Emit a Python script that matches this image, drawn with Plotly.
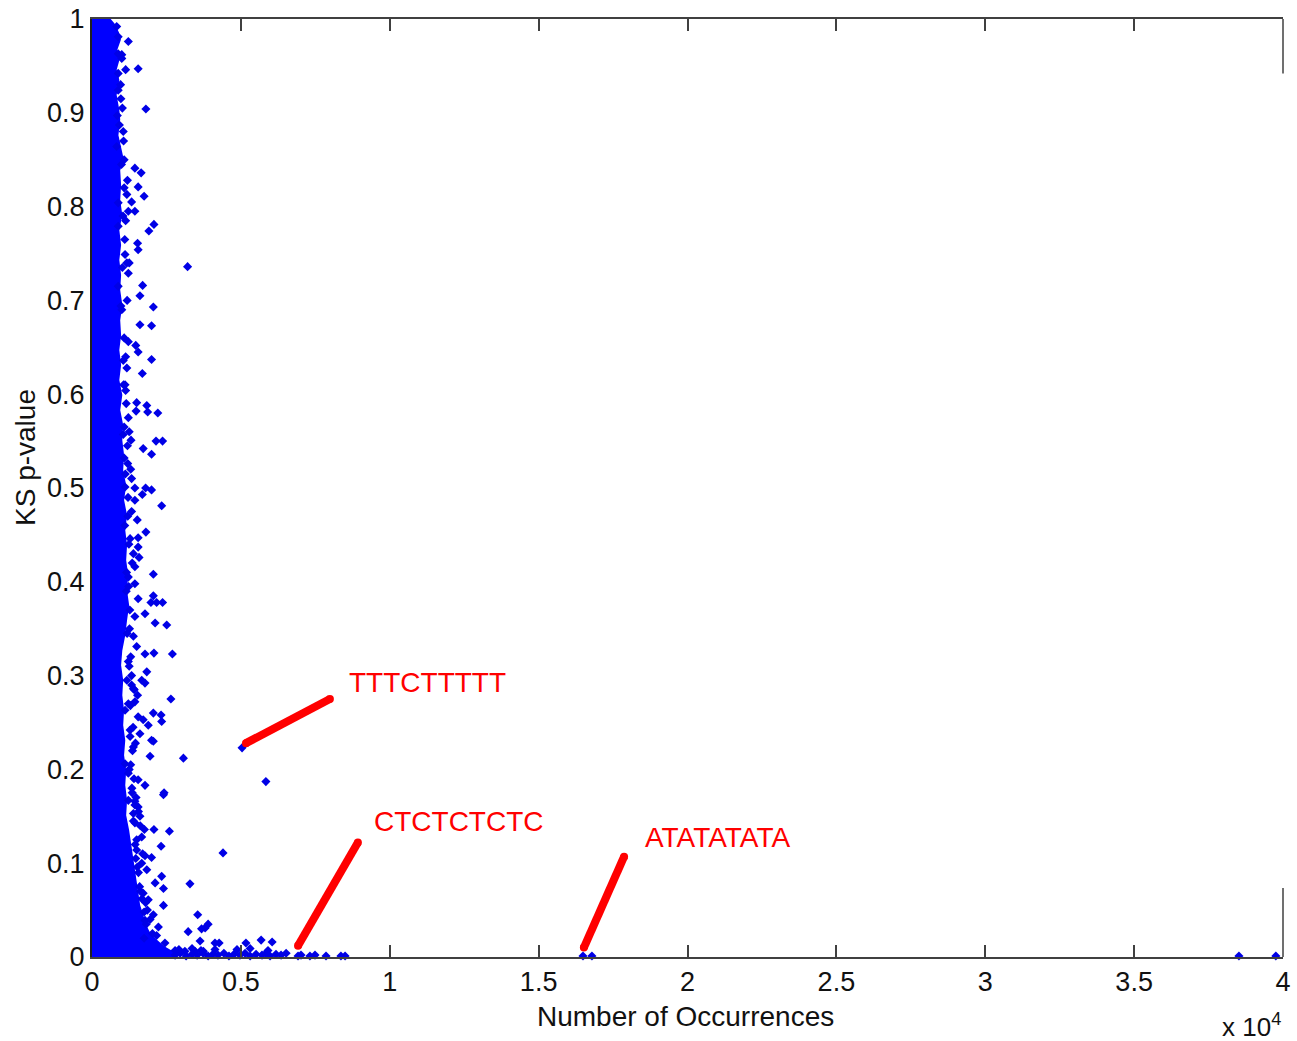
import plotly.graph_objects as go

# ---- dense core of the cloud: right edge (occurrences) vs KS p-value ----
CORE_P = [1.000,0.994,0.985,0.978,0.967,0.956,0.946,0.935,0.919,0.903,0.893,0.876,0.860,0.850,0.839,0.823,
          0.807,0.791,0.775,0.759,0.743,0.727,0.711,0.695,0.679,0.663,0.647,0.631,0.615,0.599,0.583,0.567,
          0.551,0.535,0.519,0.503,0.487,0.471,0.455,0.439,0.423,0.407,0.391,0.375,0.359,0.343,0.327,0.311,
          0.295,0.279,0.263,0.247,0.231,0.215,0.199,0.183,0.167,0.151,0.135,0.119,0.103,0.087,0.071,0.055,
          0.045,0.034,0.023,0.016,0.010,0.004,0.000]
CORE_X = [540,700,840,900,780,850,760,850,760,850,880,820,910,1000,880,910,
          880,950,850,910,850,910,880,950,880,910,850,910,850,950,880,980,
          950,1010,980,1080,1010,1110,1050,1110,1080,1150,1110,1180,1110,1050,950,910,
          980,950,1010,980,1050,1010,1080,1050,1110,1080,1180,1250,1320,1380,1450,1550,
          1650,1750,1920,2150,2380,2700,2790]

# ---- individual scattered motifs (occurrences, KS p-value) ----
PTS_X = [830,880,1220,880,1130,1550,880,880,970,1810,850,920,830,1080,1440,1650,1190,1550,1080,1170,
         1750,1330,880,1220,1440,880,2080,1910,1530,1550,1110,1170,1250,1220,3210,1700,1610,880,970,2060,
         1610,2000,1220,1470,1550,1050,1170,2000,1690,1130,1500,1840,1480,1870,2210,1220,1080,1050,1310,2150,
         2370,1720,2000,1080,1200,1330,1110,1440,1800,2000,1690,1440,2340,1330,1520,1810,1280,1550,1550,1390,
         1580,1440,2060,1220,1440,1550,2060,1980,2170,2370,1780,1440,2120,2510,1390,1500,1780,2080,2700,1220,
         1840,1170,1670,1780,1390,1530,1440,2650,1110,1550,2060,2320,2340,1720,1890,1280,1610,2000,2060,1390,
         1950,3070,1110,1220,1550,1780,2420,2400,1220,1440,1550,1390,1610,1440,1760,2080,2600,1670,2320,1500,
         1780,2000,1670,1840,2340,2120,2400,3290,1720,1890,2400,2060,3550,1780,2230,3230,3680,3630,2170,2450,
         2790,3120,3460,3740,3800,3900,4130,4270,5170,5680,6050,4400,5040,5840,
         1000,1050,1130,1180,1110,1250,1300,1200,1350,1150,1260,1330,1420,1290,1380,1460,1250,1340,1480,1560,
         1620,1450,1520,1700,1630,1800,1860,1950,2030,1750,
         1000,960,1020,1060,990,1040,1100,1020,1000,1080,1130,1060,1150,1190,1120,1210,1100,1240,1160,1230,
         1270,1180,1300,1250,1330,1220,1280,1360,1300,1410,1350,1440,1390,1500,1470,1560,1600,1680,1750,1820]
PTS_P = [0.992,0.981,0.976,0.963,0.946,0.947,0.942,0.924,0.915,0.904,0.897,0.887,0.864,0.850,0.841,0.836,0.828,0.821,0.820,0.813,
         0.811,0.805,0.804,0.795,0.795,0.779,0.781,0.774,0.761,0.754,0.749,0.740,0.740,0.729,0.736,0.716,0.705,0.715,0.694,0.693,
         0.674,0.673,0.656,0.652,0.645,0.636,0.628,0.637,0.622,0.604,0.591,0.588,0.582,0.581,0.580,0.575,0.565,0.557,0.551,0.550,
         0.550,0.542,0.536,0.532,0.526,0.510,0.501,0.500,0.500,0.498,0.493,0.487,0.481,0.475,0.466,0.453,0.446,0.447,0.437,0.430,
         0.426,0.416,0.408,0.405,0.398,0.382,0.385,0.378,0.378,0.378,0.366,0.363,0.356,0.354,0.342,0.331,0.323,0.324,0.323,0.315,
         0.304,0.295,0.295,0.292,0.286,0.279,0.272,0.275,0.263,0.256,0.260,0.258,0.251,0.253,0.247,0.242,0.238,0.231,0.230,0.224,
         0.214,0.212,0.206,0.196,0.189,0.183,0.175,0.173,0.167,0.166,0.160,0.153,0.150,0.143,0.136,0.136,0.134,0.128,0.118,0.114,
         0.108,0.106,0.100,0.093,0.086,0.079,0.073,0.078,0.068,0.061,0.055,0.045,0.045,0.039,0.032,0.027,0.030,0.017,0.023,0.015,
         0.007,0.006,0.006,0.006,0.031,0.035,0.015,0.015,0.015,0.018,0.016,0.111,0.223,0.187,
         0.962,0.880,0.785,0.700,0.610,0.560,0.520,0.470,0.420,0.390,0.350,0.300,0.285,0.268,0.245,0.228,0.200,0.180,0.170,0.155,
         0.140,0.120,0.096,0.110,0.070,0.058,0.050,0.040,0.025,0.020,
         0.958,0.930,0.905,0.870,0.845,0.790,0.765,0.735,0.690,0.660,0.640,0.610,0.590,0.545,0.515,0.490,0.460,0.440,0.410,0.395,
         0.370,0.345,0.320,0.310,0.290,0.270,0.235,0.220,0.205,0.190,0.175,0.162,0.145,0.125,0.105,0.090,0.075,0.062,0.048,0.035]

# motifs lying on (or just above) p = 0
ZERO_X = [2790,2960,3160,3360,3530,3730,3900,4060,4230,4430,4600,4770,4970,5140,5310,5510,5710,5840,5980,6180,
          6350,6520,6920,7020,7320,7490,7860,8360,8500,2920,3360,3660,4130,4870,5310,5910,16490,16790,38520,39760]
ZERO_P = [0.002,0.004,0.001,0.003,0.002,0.004,0.001,0.003,0.002,0.004,0.001,0.003,0.002,0.004,0.001,0.003,0.002,0.004,0.001,0.003,
          0.002,0.004,0.001,0.002,0.001,0.002,0.001,0.001,0.001,0.008,0.009,0.007,0.008,0.008,0.009,0.007,0.001,0.001,0.001,0.001]

# ---- labelled motifs: (label, line start x/p, line end x/p) ----
LABELS = ["TTTCTTTTT", "CTCTCTCTC", "ATATATATA"]
LINE_X0 = [5170, 6920, 16520]
LINE_P0 = [0.228, 0.012, 0.010]
LINE_X1 = [7990, 8930, 17870]
LINE_P1 = [0.275, 0.122, 0.107]
TEXT_X = [8560, 9400, 18500]
TEXT_P = [0.293, 0.144, 0.127]

X_TICKS = [0, 5000, 10000, 15000, 20000, 25000, 30000, 35000, 40000]
X_TICKTEXT = ["0", "0.5", "1", "1.5", "2", "2.5", "3", "3.5", "4"]
Y_TICKS = [0, 0.1, 0.2, 0.3, 0.4, 0.5, 0.6, 0.7, 0.8, 0.9, 1]

BLUE = "#0000ff"
RED = "#ff0000"
FONT = "Liberation Sans, Arial, sans-serif"

fig = go.Figure()

fig.add_trace(go.Scatter(
    x=[0] + CORE_X + [0], y=[1] + CORE_P + [0],
    mode="lines", fill="toself", fillcolor=BLUE,
    line=dict(color=BLUE, width=4), hoverinfo="skip", showlegend=False))

fig.add_trace(go.Scatter(
    x=PTS_X + ZERO_X, y=PTS_P + ZERO_P, mode="markers",
    marker=dict(symbol="diamond", size=7, color="#0000e6", line=dict(width=0)),
    cliponaxis=False, showlegend=False))

for i in range(len(LABELS)):
    fig.add_trace(go.Scatter(
        x=[LINE_X0[i], LINE_X1[i]], y=[LINE_P0[i], LINE_P1[i]],
        mode="lines+markers", line=dict(color=RED, width=8),
        marker=dict(size=8, color=RED), cliponaxis=False, showlegend=False))
    fig.add_annotation(x=TEXT_X[i], y=TEXT_P[i], text=LABELS[i], showarrow=False,
                       xanchor="left", yanchor="middle",
                       font=dict(family=FONT, size=28, color=RED))

# right border drawn only partially (as in the original)
fig.add_shape(type="line", xref="paper", yref="paper", x0=1, x1=1, y0=1, y1=0.942,
              line=dict(color="#404040", width=1.5))
fig.add_shape(type="line", xref="paper", yref="paper", x0=1, x1=1, y0=0.0736, y1=0,
              line=dict(color="#404040", width=1.5))

fig.add_annotation(xref="paper", yref="paper", x=0.498, y=-0.0629, text="Number of Occurrences",
                   showarrow=False, xanchor="center", yanchor="middle",
                   font=dict(family=FONT, size=28, color="#111"))
fig.add_annotation(xref="paper", yref="paper", x=-0.0563, y=0.533, text="KS p-value",
                   textangle=-90, showarrow=False, xanchor="center", yanchor="middle",
                   font=dict(family=FONT, size=28, color="#111"))
fig.add_annotation(xref="paper", yref="paper", x=1.0, y=-0.0725, text="x 10<sup>4</sup>",
                   showarrow=False, xanchor="right", yanchor="middle",
                   font=dict(family=FONT, size=26, color="#111"))

fig.update_xaxes(range=[0, 40000], tickvals=X_TICKS, ticktext=X_TICKTEXT,
                 ticks="inside", ticklen=12, tickwidth=1.5, tickcolor="#404040",
                 showline=True, linecolor="#404040", linewidth=1.5, mirror="ticks",
                 showgrid=False, zeroline=False, automargin=False,
                 tickfont=dict(family=FONT, size=27, color="#111"))
fig.update_yaxes(range=[0, 1], tickvals=Y_TICKS,
                 ticks="", showline=True, linecolor="#202020", linewidth=2, mirror=False,
                 showgrid=False, zeroline=False, automargin=False,
                 tickfont=dict(family=FONT, size=27, color="#111"))

fig.update_layout(width=1297, height=1041, margin=dict(l=92, r=14, t=19, b=84, autoexpand=False),
                  paper_bgcolor="white", plot_bgcolor="white", showlegend=False)

fig.write_html("out.html")
